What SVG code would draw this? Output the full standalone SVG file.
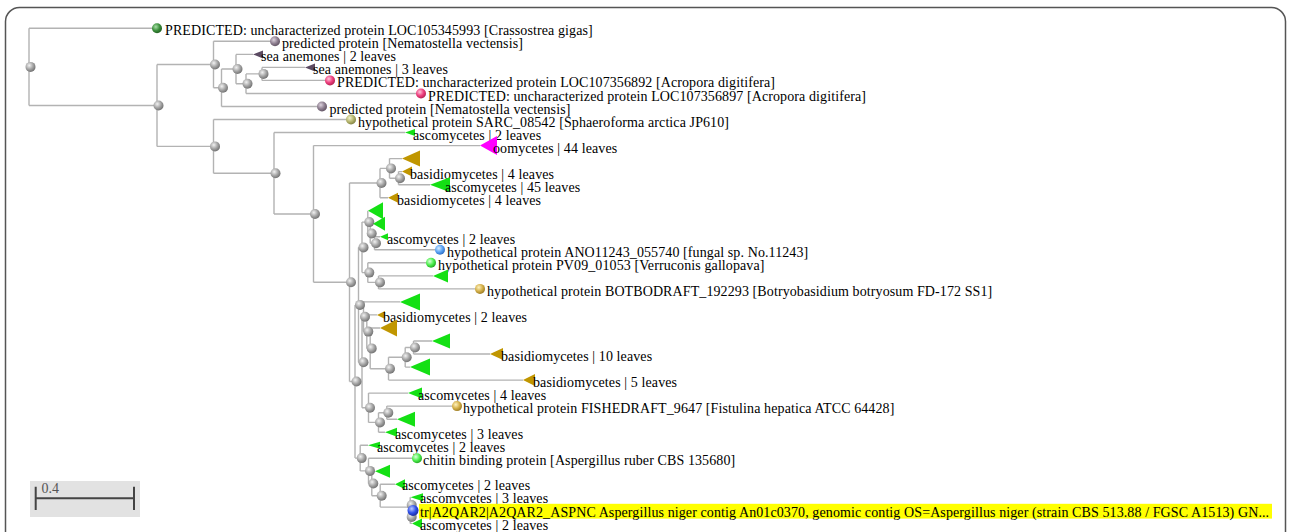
<svg xmlns="http://www.w3.org/2000/svg" width="1290" height="532" viewBox="0 0 1290 532">
<defs>
<radialGradient id="gGray" cx="0.38" cy="0.35" r="0.7"><stop offset="0" stop-color="#f2f2f2"/><stop offset="0.55" stop-color="#a4a4a4"/><stop offset="1" stop-color="#6c6c6c"/></radialGradient>
<radialGradient id="gDkGreen" cx="0.38" cy="0.35" r="0.7"><stop offset="0" stop-color="#a8e0a8"/><stop offset="0.55" stop-color="#3c8f3c"/><stop offset="1" stop-color="#1e5a1e"/></radialGradient>
<radialGradient id="gMauve" cx="0.38" cy="0.35" r="0.7"><stop offset="0" stop-color="#ddd3de"/><stop offset="0.55" stop-color="#8e7f90"/><stop offset="1" stop-color="#5c4e5e"/></radialGradient>
<radialGradient id="gPink" cx="0.38" cy="0.35" r="0.7"><stop offset="0" stop-color="#ffc6dc"/><stop offset="0.55" stop-color="#ee3f7e"/><stop offset="1" stop-color="#ad1f4d"/></radialGradient>
<radialGradient id="gOlive" cx="0.38" cy="0.35" r="0.7"><stop offset="0" stop-color="#f0f0cc"/><stop offset="0.55" stop-color="#b5b56e"/><stop offset="1" stop-color="#7c7c3e"/></radialGradient>
<radialGradient id="gLBlue" cx="0.38" cy="0.35" r="0.7"><stop offset="0" stop-color="#dcefff"/><stop offset="0.55" stop-color="#5aa3f5"/><stop offset="1" stop-color="#2a68bf"/></radialGradient>
<radialGradient id="gLGreen" cx="0.38" cy="0.35" r="0.7"><stop offset="0" stop-color="#dcffdc"/><stop offset="0.55" stop-color="#4cee4c"/><stop offset="1" stop-color="#1f9f1f"/></radialGradient>
<radialGradient id="gGold" cx="0.38" cy="0.35" r="0.7"><stop offset="0" stop-color="#fff2be"/><stop offset="0.55" stop-color="#d4b04a"/><stop offset="1" stop-color="#987820"/></radialGradient>
<radialGradient id="gBlue" cx="0.38" cy="0.35" r="0.7"><stop offset="0" stop-color="#bcc8ff"/><stop offset="0.55" stop-color="#3050e8"/><stop offset="1" stop-color="#1a2a98"/></radialGradient>
</defs>
<style>
.e{fill:none;stroke:#b3b3b3;stroke-width:1.4}
.n{fill:url(#gGray)}
.t{font-family:"Liberation Serif","Times New Roman",serif;font-size:14px;letter-spacing:0.1px;fill:#000}
.tg{fill:#14e014}
.tb{fill:#c09600}
.tm{fill:#ff00ff}
.tp{fill:#5b4a62}
.hl{fill:#ffff00}
</style>
<rect x="0" y="0" width="1290" height="532" fill="#ffffff"/>
<rect id="frame" x="5.5" y="7.5" width="1280" height="600" rx="14" fill="#ffffff" stroke="#555555" stroke-width="1.5"/>

<g id="connectors">
<path class="e" d="M29 28.3V105.5M29 28.3H157M29 105.5H157
M157 64.5V146.4M157 64.5H213.5M157 146.4H213.5
M213.5 41.3V87.8M213.5 41.3H275M213.5 87.8H221.5
M221.5 69V106.5M221.5 69H236M221.5 106.5H322
M236 54.4V83.7M236 54.4H253M236 83.7H246
M246 73.9V93.5M246 73.9H262M246 93.5H421
M262 67.4V80.4M262 67.4H305M262 80.4H330
M213.5 119.5V173.3M213.5 119.5H351M213.5 173.3H274
M274 132.5V214M274 132.5H405M274 214H313.5
M313.5 145.6V282.3M313.5 145.6H480M313.5 282.3H349.5
M349.5 183V381.5M349.5 183H380M349.5 381.5H355
M380 168.4V197.7M380 168.4H389.5M380 197.7H388
M389.5 158.6V178.2M389.5 158.6H402M389.5 178.2H398.5
M398.5 171.6V184.7M398.5 171.6H402M398.5 184.7H430
M355 304.9V458.1M355 304.9H358.5M355 458.1H360.2
M358.5 247.4V362.3M358.5 247.4H362M358.5 362.3H362
M362 222.1V272.6M362 222.1H367.8M362 272.6H367.8
M367.8 210.7V233.5M367.8 233.5H370.2
M370.2 223.8V243.3M370.2 223.8H373M370.2 243.3H374.5
M374.5 236.8V249.8M374.5 236.8H380M374.5 249.8H440
M367.8 262.8V282.4M367.8 262.8H431M367.8 282.4H378.5
M378.5 275.9V288.9M378.5 275.9H433M378.5 288.9H480
M362 316.8V407.8M362 316.8H363.5M362 407.8H368.5
M363.5 301.9V331.6M363.5 301.9H400M363.5 331.6H366.8
M366.8 314.9V348.4M366.8 314.9H377M366.8 348.4H370.2
M370.2 328V368.7M370.2 328H380M370.2 368.7H388.5
M388.5 357.3V380.1M388.5 357.3H405.2M388.5 380.1H523
M405.2 347.5V367.1M405.2 347.5H413.5M405.2 367.1H410
M413.5 341V354M413.5 341H432M413.5 354H490
M368.5 393.1V422.4M368.5 393.1H408M368.5 422.4H378.5
M378.5 412.7V432.2M378.5 412.7H386.8M378.5 432.2H385
M386.8 406.1V419.2M386.8 406.1H457M386.8 419.2H397
M360.2 445.2V470.9M360.2 445.2H368M360.2 470.9H368.5
M368.5 458.3V483.5M368.5 458.3H417M368.5 483.5H371.8
M371.8 471.3V495.7M371.8 471.3H375M371.8 495.7H380.2
M380.2 484.3V507.1M380.2 484.3H395M380.2 507.1H410.2
M410.2 497.3V523.4M410.2 497.3H410.5M410.2 510.4H413M410.2 523.4H412"/>
</g>

<g id="internal-nodes">
<circle id="nR" class="n" cx="30.5" cy="66.9" r="5"/>
<circle id="nA" class="n" cx="158.5" cy="105.5" r="5"/>
<circle id="nB" class="n" cx="215" cy="64.5" r="5"/>
<circle id="nD" class="n" cx="223" cy="87.8" r="5"/>
<circle id="nG2" class="n" cx="237.5" cy="69" r="5"/>
<circle id="nH2" class="n" cx="247.5" cy="83.7" r="5"/>
<circle id="nI2" class="n" cx="263.5" cy="73.9" r="5"/>
<circle id="nC" class="n" cx="215" cy="146.4" r="5"/>
<circle id="nE" class="n" cx="275.5" cy="173.3" r="5"/>
<circle id="nF" class="n" cx="315" cy="214" r="5"/>
<circle id="nG" class="n" cx="351" cy="282.3" r="5"/>
<circle id="nH" class="n" cx="381.5" cy="183" r="5"/>
<circle id="nJ" class="n" cx="391" cy="168.4" r="5"/>
<circle id="nK" class="n" cx="400" cy="178.2" r="5"/>
<circle id="nI" class="n" cx="356.5" cy="381.5" r="5"/>
<circle id="nL" class="n" cx="360" cy="304.9" r="5"/>
<circle id="nN" class="n" cx="363.5" cy="247.4" r="5"/>
<circle id="nP" class="n" cx="369.3" cy="222.1" r="5"/>
<circle id="nS" class="n" cx="371.7" cy="233.5" r="5"/>
<circle id="nT" class="n" cx="376" cy="243.3" r="5"/>
<circle id="nQ" class="n" cx="369.3" cy="272.6" r="5"/>
<circle id="nU" class="n" cx="380" cy="282.4" r="5"/>
<circle id="nO" class="n" cx="363.5" cy="362.3" r="5"/>
<circle id="nW" class="n" cx="365" cy="316.8" r="5"/>
<circle id="nY" class="n" cx="368.3" cy="331.6" r="5"/>
<circle id="nZ1" class="n" cx="371.7" cy="348.4" r="5"/>
<circle id="nV1" class="n" cx="390" cy="368.7" r="5"/>
<circle id="nV2" class="n" cx="406.7" cy="357.3" r="5"/>
<circle id="nV3" class="n" cx="415" cy="347.5" r="5"/>
<circle id="nX" class="n" cx="370" cy="407.8" r="5"/>
<circle id="nZ" class="n" cx="380" cy="422.4" r="5"/>
<circle id="nZ2" class="n" cx="388.3" cy="412.7" r="5"/>
<circle id="nM" class="n" cx="361.7" cy="458.1" r="5"/>
<circle id="nM2" class="n" cx="370" cy="470.9" r="5"/>
<circle id="nM3" class="n" cx="373.3" cy="483.5" r="5"/>
<circle id="nM4" class="n" cx="381.7" cy="495.7" r="5"/>
<circle id="nM5" class="n" cx="411.7" cy="505" r="5"/>
<circle id="nM6" class="n" cx="411.7" cy="516.9" r="5"/>
</g>

<g id="leaf1"><circle cx="157" cy="28.3" r="5" fill="url(#gDkGreen)"/><text class="t" x="165" y="35.3">PREDICTED: uncharacterized protein LOC105345993 [Crassostrea gigas]</text></g>
<g id="leaf2"><circle cx="275" cy="41.3" r="5" fill="url(#gMauve)"/><text class="t" x="282" y="48.3">predicted protein [Nematostella vectensis]</text></g>
<g id="leaf3"><polygon class="tp" points="253,54.4 263,50.4 263,58.4"/><text class="t" x="261" y="61.4">sea anemones | 2 leaves</text></g>
<g id="leaf4"><polygon class="tp" points="305,67.4 315,63.4 315,71.4"/><text class="t" x="313" y="74.4">sea anemones | 3 leaves</text></g>
<g id="leaf5"><circle cx="330" cy="80.4" r="5" fill="url(#gPink)"/><text class="t" x="337" y="87.4">PREDICTED: uncharacterized protein LOC107356892 [Acropora digitifera]</text></g>
<g id="leaf6"><circle cx="421" cy="93.5" r="5" fill="url(#gPink)"/><text class="t" x="428" y="100.5">PREDICTED: uncharacterized protein LOC107356897 [Acropora digitifera]</text></g>
<g id="leaf7"><circle cx="322" cy="106.5" r="5" fill="url(#gMauve)"/><text class="t" x="329.5" y="113.5">predicted protein [Nematostella vectensis]</text></g>
<g id="leaf8"><circle cx="351" cy="119.5" r="5" fill="url(#gOlive)"/><text class="t" x="358" y="126.5">hypothetical protein SARC_08542 [Sphaeroforma arctica JP610]</text></g>
<g id="leaf9"><polygon class="tg" points="405,132.5 415,129 415,136"/><text class="t" x="413" y="139.5">ascomycetes | 2 leaves</text></g>
<g id="leaf10"><polygon class="tm" points="480,145.6 497,136.1 497,155.1"/><text class="t" x="493" y="152.6">oomycetes | 44 leaves</text></g>
<g id="leaf11"><polygon class="tb" points="402,158.6 420,150.6 420,166.6"/></g>
<g id="leaf12"><polygon class="tb" points="402,171.6 412,166.6 412,176.6"/><text class="t" x="410" y="178.6">basidiomycetes | 4 leaves</text></g>
<g id="leaf13"><polygon class="tg" points="430,184.7 450,177.2 450,192.2"/><text class="t" x="445" y="191.7">ascomycetes | 45 leaves</text></g>
<g id="leaf14"><polygon class="tb" points="388,197.7 398,192.7 398,202.7"/><text class="t" x="397" y="204.7">basidiomycetes | 4 leaves</text></g>
<g id="leaf15"><polygon class="tg" points="368,210.7 383,202.2 383,219.2"/></g>
<g id="leaf16"><polygon class="tg" points="373,223.8 385,216.8 385,230.8"/></g>
<g id="leaf17"><polygon class="tg" points="380,236.8 388,233.3 388,240.3"/><text class="t" x="387" y="243.8">ascomycetes | 2 leaves</text></g>
<g id="leaf18"><circle cx="440" cy="249.8" r="5" fill="url(#gLBlue)"/><text class="t" x="447" y="256.8">hypothetical protein ANO11243_055740 [fungal sp. No.11243]</text></g>
<g id="leaf19"><circle cx="431" cy="262.8" r="5" fill="url(#gLGreen)"/><text class="t" x="438" y="269.8">hypothetical protein PV09_01053 [Verruconis gallopava]</text></g>
<g id="leaf20"><polygon class="tg" points="433,275.9 448,269.4 448,282.4"/></g>
<g id="leaf21"><circle cx="480" cy="288.9" r="5" fill="url(#gGold)"/><text class="t" x="487" y="295.9">hypothetical protein BOTBODRAFT_192293 [Botryobasidium botryosum FD-172 SS1]</text></g>
<g id="leaf22"><polygon class="tg" points="400,301.9 420,293.4 420,310.4"/></g>
<g id="leaf23"><polygon class="tb" points="377,314.9 385,310.9 385,318.9"/><text class="t" x="383" y="321.9">basidiomycetes | 2 leaves</text></g>
<g id="leaf24"><polygon class="tb" points="380,328 397,319.5 397,336.5"/></g>
<g id="leaf25"><polygon class="tg" points="432,341 450,333.5 450,348.5"/></g>
<g id="leaf26"><polygon class="tb" points="490,354 503,348 503,360"/><text class="t" x="501" y="361">basidiomycetes | 10 leaves</text></g>
<g id="leaf27"><polygon class="tg" points="410,367.1 430,358.6 430,375.6"/></g>
<g id="leaf28"><polygon class="tb" points="523,380.1 535,374.1 535,386.1"/><text class="t" x="533" y="387.1">basidiomycetes | 5 leaves</text></g>
<g id="leaf29"><polygon class="tg" points="408,393.1 422,387.6 422,398.6"/><text class="t" x="418" y="400.1">ascomycetes | 4 leaves</text></g>
<g id="leaf30"><circle cx="457" cy="406.1" r="5" fill="url(#gGold)"/><text class="t" x="463" y="413.1">hypothetical protein FISHEDRAFT_9647 [Fistulina hepatica ATCC 64428]</text></g>
<g id="leaf31"><polygon class="tg" points="397,419.2 415,411.7 415,426.7"/></g>
<g id="leaf32"><polygon class="tg" points="385,432.2 397,427.7 397,436.7"/><text class="t" x="395" y="439.2">ascomycetes | 3 leaves</text></g>
<g id="leaf33"><polygon class="tg" points="368,445.2 380,441.7 380,448.7"/><text class="t" x="377" y="452.2">ascomycetes | 2 leaves</text></g>
<g id="leaf34"><circle cx="417" cy="458.3" r="5" fill="url(#gLGreen)"/><text class="t" x="423" y="465.3">chitin binding protein [Aspergillus ruber CBS 135680]</text></g>
<g id="leaf35"><polygon class="tg" points="375,471.3 390,464.8 390,477.8"/></g>
<g id="leaf36"><polygon class="tg" points="395,484.3 405,479.3 405,489.3"/><text class="t" x="402" y="490.2">ascomycetes | 2 leaves</text></g>
<g id="leaf37"><polygon class="tg" points="410.5,497.3 423,493.3 423,501.3"/><text class="t" x="420" y="503">ascomycetes | 3 leaves</text></g>
<g id="leaf38"><rect class="hl" x="419" y="503.8" width="853" height="14.8"/><circle cx="413" cy="510.4" r="5.5" fill="url(#gBlue)"/><text class="t" x="420" y="516.8">tr|A2QAR2|A2QAR2_ASPNC Aspergillus niger contig An01c0370, genomic contig OS=Aspergillus niger (strain CBS 513.88 / FGSC A1513) GN...</text></g>
<g id="leaf39"><polygon class="tg" points="412,523.4 422,518.4 422,528.4"/><text class="t" x="420" y="530.4">ascomycetes | 2 leaves</text></g>

<g id="scale-bar">
<rect x="30" y="481" width="110" height="36" fill="#e2e2e2"/>
<path d="M35.7 498.3H134M35.7 486.7V510M134 486.7V510" fill="none" stroke="#444444" stroke-width="2"/>
<text x="41.5" y="493" font-family="Liberation Serif, serif" font-size="14" fill="#555555">0.4</text>
</g>
</svg>
